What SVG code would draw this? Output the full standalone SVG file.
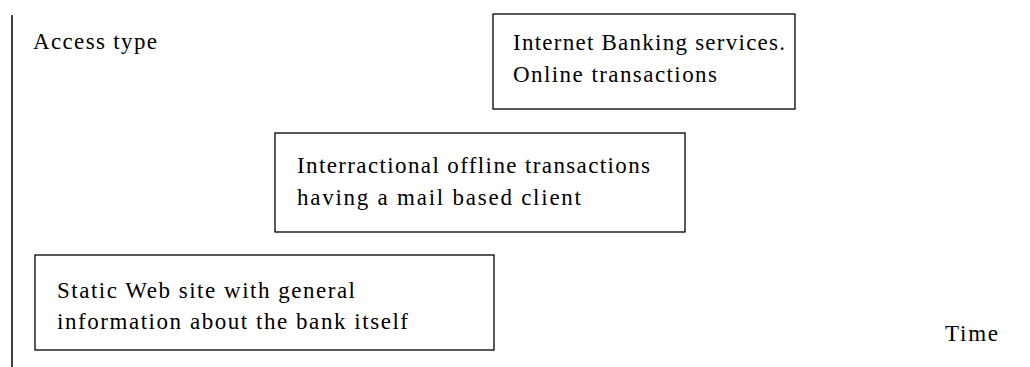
<svg xmlns="http://www.w3.org/2000/svg" width="1030" height="367" viewBox="0 0 1030 367">
<style>
.box{fill:#fff;stroke:#000;stroke-width:1.3}
.t{font-family:"Liberation Serif","Times New Roman",serif;font-size:23px;fill:#000}
.axis{stroke:#000;stroke-width:1.5;fill:none}
</style>
<rect width="1030" height="367" fill="#fff"/>
<g id="connectors">
<line class="axis" x1="12" y1="15" x2="12" y2="367"/>
</g>
<g id="axis-label-access"><text class="t" x="33" y="49" textLength="124" lengthAdjust="spacing">Access type</text></g>
<g id="axis-label-time"><text class="t" x="945" y="341" textLength="53" lengthAdjust="spacing">Time</text></g>
<g id="node-internet">
<rect class="box" x="493" y="14" width="302" height="95"/>
<text class="t" x="513" y="50" textLength="272" lengthAdjust="spacing">Internet Banking services.</text>
<text class="t" x="513" y="82" textLength="204" lengthAdjust="spacing">Online transactions</text>
</g>
<g id="node-interactional">
<rect class="box" x="275" y="133" width="410" height="99"/>
<text class="t" x="297" y="173" textLength="353" lengthAdjust="spacing">Interractional offline transactions</text>
<text class="t" x="297" y="205" textLength="284" lengthAdjust="spacing">having a mail based client</text>
</g>
<g id="node-static">
<rect class="box" x="35" y="255" width="459" height="95"/>
<text class="t" x="57" y="298" textLength="298" lengthAdjust="spacing">Static Web site with general</text>
<text class="t" x="57" y="329" textLength="351" lengthAdjust="spacing">information about the bank itself</text>
</g>
</svg>
